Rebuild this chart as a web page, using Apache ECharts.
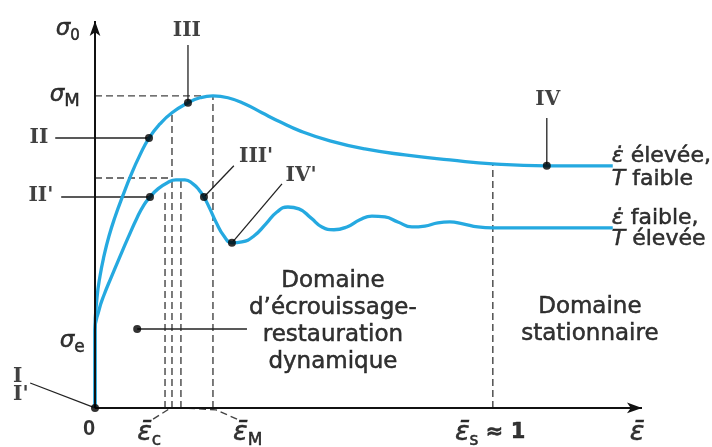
<!DOCTYPE html>
<html><head><meta charset="utf-8">
<script src="https://cdn.jsdelivr.net/npm/echarts@6/dist/echarts.min.js"></script>
<style>html,body{margin:0;padding:0;background:#fff}#c{width:712px;height:447px}</style>
</head><body><div id="c"></div>
<script>
// strain (eps / eps_s) and stress (sigma / sigma_M), schematic values
const upperStrain = [0, 0, 0.005, 0.0126, 0.0226, 0.0352, 0.0503, 0.0678, 0.0905, 0.1131, 0.1357, 0.1633, 0.1935, 0.2337, 0.2638, 0.2965, 0.3342, 0.3769, 0.4196, 0.4648, 0.5151, 0.5905, 0.6784, 0.7789, 0.892, 1.0, 1.1357, 1.3015];
const upperStress = [0, 0.25, 0.353, 0.423, 0.487, 0.551, 0.612, 0.673, 0.747, 0.811, 0.865, 0.910, 0.946, 0.978, 0.994, 1.0, 0.994, 0.974, 0.946, 0.917, 0.888, 0.856, 0.830, 0.811, 0.795, 0.782, 0.776, 0.776];
const lowerStrain = [0, 0, 0.0101, 0.0226, 0.0402, 0.0603, 0.0829, 0.1055, 0.1231, 0.1382, 0.1583, 0.1809, 0.2035, 0.2261, 0.2462, 0.2613, 0.2739, 0.2889, 0.3040, 0.3241, 0.3442, 0.3693, 0.3995, 0.4296, 0.4573, 0.4849, 0.5126, 0.5427, 0.5704, 0.6005, 0.6332, 0.6658, 0.6960, 0.7286, 0.7613, 0.7965, 0.8291, 0.8618, 0.892, 0.9246, 0.9623, 1.0, 1.3015];
const lowerStress = [0, 0.25, 0.314, 0.362, 0.417, 0.478, 0.545, 0.609, 0.651, 0.676, 0.702, 0.721, 0.731, 0.731, 0.718, 0.699, 0.676, 0.638, 0.596, 0.551, 0.529, 0.532, 0.551, 0.590, 0.628, 0.644, 0.638, 0.609, 0.580, 0.571, 0.580, 0.603, 0.615, 0.612, 0.596, 0.580, 0.583, 0.593, 0.596, 0.590, 0.580, 0.577, 0.577];

// marked points: [strain, stress]
const markedPoints = [[0, 0], [0.1357, 0.865], [0.2337, 0.978], [0.1382, 0.676], [0.2739, 0.676], [0.3442, 0.529], [1.1357, 0.776], [0.106, 0.253]];

// axes extents (arrows)
const axisEnds = { strain: 1.375, stress: 1.24 };

// dashed guide lines
const guideLines = [
  [[0, 1.0], [0.2965, 1.0]],
  [[0, 0.737], [0.1935, 0.737]],
  [[0.176, 0], [0.176, 0.69]],
  [[0.1935, 0], [0.1935, 0.946]],
  [[0.216, 0], [0.216, 0.731]],
  [[0.2965, 0], [0.2965, 1.0]],
  [[1.0, 0], [1.0, 0.782]],
  [[0.146, -0.036], [0.19, 0]],
  [[0.357, -0.036], [0.304, -0.006], [0.221, 0]]
];

// leader lines from labels to points
const leaderLines = [
  [[-0.163, 0.080], [0, 0]],
  [[-0.10, 0.865], [0.1357, 0.865]],
  [[-0.085, 0.676], [0.1382, 0.676]],
  [[0.2337, 1.163], [0.2337, 0.978]],
  [[0.2739, 0.676], [0.349, 0.776]],
  [[0.3442, 0.529], [0.470, 0.718]],
  [[1.1357, 0.929], [1.1357, 0.776]],
  [[0.106, 0.253], [0.382, 0.253]]
];

// text labels: [strain, stress, text, align]
const romanLabels = [
  [0.231, 1.208, 'III', 'center'],
  [-0.141, 0.865, 'II', 'center'],
  [-0.136, 0.679, "II'", 'center'],
  [-0.206, 0.100, 'I', 'left'],
  [-0.206, 0.043, "I'", 'left'],
  [0.405, 0.804, "III'", 'center'],
  [0.518, 0.744, "IV'", 'center'],
  [1.138, 0.987, 'IV', 'center']
];
// [strain, stress, subscript, subscript size]
const sigmaLabels = [
  [-0.038, 1.215, '0', 15],
  [-0.038, 1.003, 'M', 18],
  [-0.026, 0.215, 'e', 17]
];
const strainLabels = [
  [0.106, -0.080, 'c', ''],
  [0.347, -0.080, 'M', ''],
  [0.905, -0.080, 's', ' ≈ 1'],
  [1.344, -0.080, '', '']
];
const regimeLabels = [
  [1.299, 0.805, '{e|ε\u0307} élevée,'],
  [1.299, 0.734, '{e|T} faible'],
  [1.299, 0.607, '{e|ε\u0307} faible,'],
  [1.299, 0.540, '{e|T} élevée']
];
const domainLabels = [
  [0.598, 0.2756, 'Domaine\nd\u2019écrouissage-\nrestauration\ndynamique'],
  [1.244, 0.280, 'Domaine\nstationnaire']
];

const BLUE = '#25a9e0';
const TXT = '#000';
const series = [];

function pairs(xs, ys) { return xs.map((x, i) => [x, ys[i]]); }

guideLines.forEach(seg => series.push({
  type: 'line', data: seg, showSymbol: false, clip: false, silent: true, z: 2,
  lineStyle: { color: '#444', width: 1.4, type: [7, 4] }
}));
leaderLines.forEach(seg => series.push({
  type: 'line', data: seg, showSymbol: false, clip: false, silent: true, z: 3,
  lineStyle: { color: '#222', width: 1.3 }
}));
// axes with arrows
series.push({
  type: 'line', data: [], silent: true, z: 3,
  markLine: {
    silent: true, animation: false, symbol: ['none', 'arrow'], symbolSize: [8, 15],
    label: { show: false }, emphasis: { disabled: true },
    lineStyle: { color: '#111', width: 2, type: 'solid' },
    data: [
      [{ coord: [0, 0] }, { coord: [axisEnds.strain, 0] }],
      [{ coord: [0, 0] }, { coord: [0, axisEnds.stress] }]
    ]
  }
});
[pairs(upperStrain, upperStress), pairs(lowerStrain, lowerStress)].forEach(d => series.push({
  type: 'line', data: d, showSymbol: false, smooth: 0.5, clip: false, silent: true, z: 4,
  lineStyle: { color: BLUE, width: 3.3 }
}));
series.push({
  type: 'scatter', data: markedPoints, symbolSize: 8, silent: true, z: 6, clip: false,
  itemStyle: { color: '#000' }
});

const textData = [];
function addText(x, y, formatter, label) {
  textData.push({
    value: [x, y],
    label: Object.assign({
      show: true, position: 'inside', formatter: formatter, color: TXT,
      textBorderColor: '#000', textBorderWidth: 0.5, fontFamily: 'DejaVu Sans', fontSize: 22,
      align: 'center', verticalAlign: 'middle'
    }, label)
  });
}
romanLabels.forEach(r => addText(r[0], r[1], r[2], {
  fontFamily: 'DejaVu Serif', fontSize: 20, fontWeight: 'bold', color: '#111', textBorderWidth: 0, align: r[3]
}));
sigmaLabels.forEach(s => addText(s[0], s[1], '{s|σ}{b|' + s[2] + '}', {
  align: 'right',
  rich: {
    s: { fontFamily: 'DejaVu Sans', fontStyle: 'italic', fontSize: 23, lineHeight: 30, color: TXT },
    b: { fontFamily: 'DejaVu Sans', fontSize: s[3], verticalAlign: 'bottom', color: TXT }
  }
}));
addText(-0.015, -0.066, '0', { fontWeight: 'bold', fontSize: 22, fontFamily: 'Liberation Sans', textBorderWidth: 0 });
strainLabels.forEach(s => addText(s[0], s[1], '{s|ε\u0304}' + (s[2] ? '{b|' + s[2] + '}' : '') + (s[3] ? '{n|' + s[3] + '}' : ''), {
  align: 'left',
  rich: {
    s: { fontFamily: 'DejaVu Sans', fontStyle: 'italic', fontSize: 27, lineHeight: 32, color: TXT },
    b: { fontFamily: 'DejaVu Sans', fontSize: 17, verticalAlign: 'bottom', color: TXT },
    n: { fontFamily: 'DejaVu Sans', fontSize: 21, fontWeight: 'bold', color: TXT }
  }
}));
regimeLabels.forEach(r => addText(r[0], r[1], r[2], {
  align: 'left', fontSize: 22,
  rich: { e: { fontFamily: 'DejaVu Sans', fontStyle: 'italic', fontSize: 22, color: TXT } }
}));
domainLabels.forEach(d => addText(d[0], d[1], d[2], { lineHeight: 27, fontSize: 23 }));

series.push({
  type: 'scatter', data: textData, symbolSize: 1, silent: true, z: 8, clip: false,
  itemStyle: { color: 'rgba(255,255,255,0)' }
});

const chart = echarts.init(document.getElementById('c'), null, { renderer: 'canvas' });
chart.setOption({
  animation: false,
  backgroundColor: '#fff',
  grid: { left: 2, right: 70, top: 21, bottom: 1.6 },
  xAxis: {
    type: 'value', min: -0.2338, max: axisEnds.strain,
    axisLine: { show: false }, axisTick: { show: false }, axisLabel: { show: false }, splitLine: { show: false }
  },
  yAxis: {
    type: 'value', min: -0.12, max: axisEnds.stress,
    axisLine: { show: false }, axisTick: { show: false }, axisLabel: { show: false }, splitLine: { show: false }
  },
  series: series
});
</script>
</body></html>
